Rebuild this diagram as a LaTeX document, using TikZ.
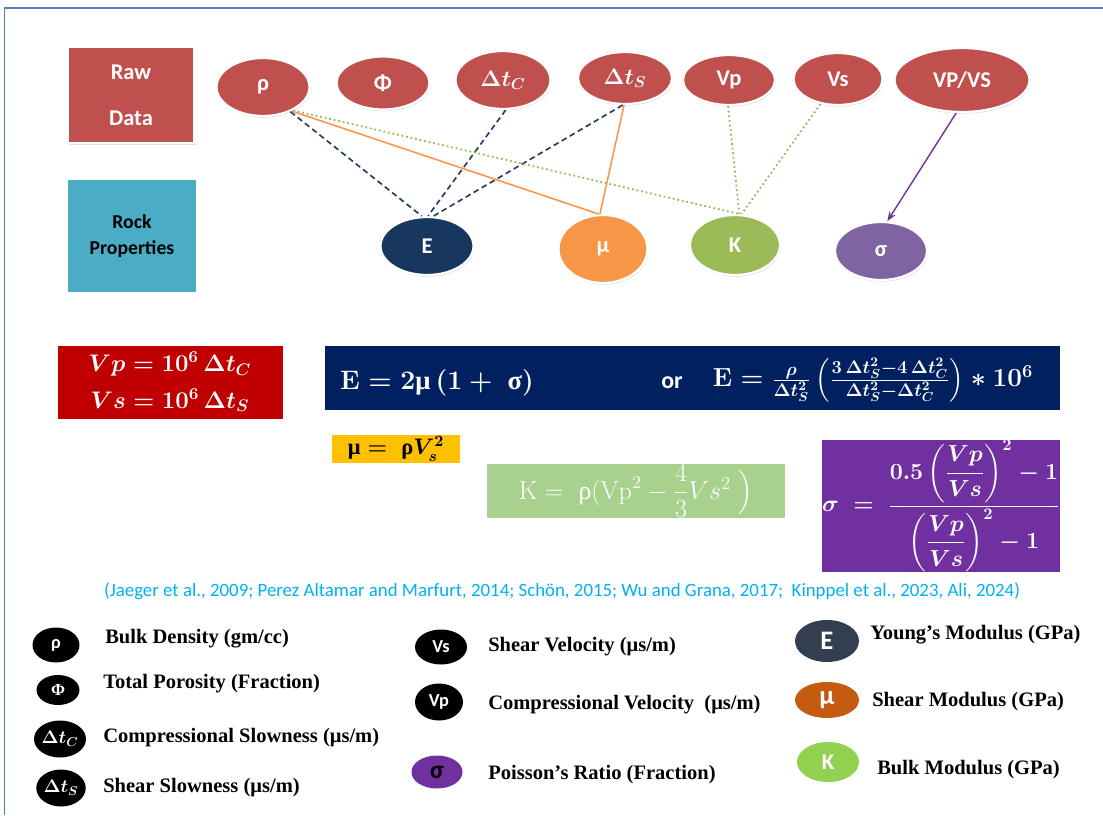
\RequirePackage{fix-cm}
\documentclass[tikz,border=0pt]{standalone}
\usepackage{amsmath}
\usepackage{fontspec}
\setsansfont{Carlito}
\newfontfamily\legfont{Liberation Serif}
\usepackage{tikz}
\usetikzlibrary{arrows.meta,positioning,shapes.geometric,shadows}
\definecolor{rawred}{HTML}{C0504D}
\definecolor{rockblue}{HTML}{4BACC6}
\definecolor{ynavy}{HTML}{17375E}
\definecolor{shearorange}{HTML}{F79646}
\definecolor{bulkgreen}{HTML}{9BBB59}
\definecolor{poisson}{HTML}{8064A2}
\definecolor{linknavy}{HTML}{243F60}
\definecolor{eqred}{HTML}{C00000}
\definecolor{eqnavy}{HTML}{002060}
\definecolor{eqyellow}{HTML}{FFC000}
\definecolor{eqgreen}{HTML}{A9D18E}
\definecolor{eqpurple}{HTML}{7030A0}
\definecolor{citecyan}{HTML}{00B0F0}
\definecolor{framebl}{HTML}{4F81BD}
\definecolor{legslate}{HTML}{333F50}
\definecolor{legorange}{HTML}{C55A11}
\definecolor{leggreen}{HTML}{92D050}
\newcommand{\ug}[1]{\mbox{\legfont\bfseries #1}}
\tikzset{
  tagbox/.style 2 args={rectangle,draw=white,line width=2pt,inner sep=0pt,align=center,
                  minimum width=#1*0.025cm,minimum height=#2*0.025cm,
                  drop shadow={shadow xshift=0.8pt,shadow yshift=-1.4pt,opacity=0.25}},
  oval/.style 2 args={ellipse,draw=white,line width=1.6pt,inner sep=0pt,fill=rawred,text=white,
                  minimum width=#1*0.025cm,minimum height=#2*0.025cm,
                  font=\sffamily\bfseries\boldmath\fontsize{16}{18}\selectfont,
                  drop shadow={shadow xshift=0.6pt,shadow yshift=-1.2pt,opacity=0.25}},
  legoval/.style 2 args={ellipse,fill=black,inner sep=0pt,text=white,
                  minimum width=#1*0.025cm,minimum height=#2*0.025cm,
                  font=\sffamily\bfseries\boldmath\fontsize{13}{14}\selectfont},
  eqbox/.style 2 args={rectangle,inner sep=0pt,align=center,
                  minimum width=#1*0.025cm,minimum height=#2*0.025cm},
  legtext/.style={anchor=west,inner sep=0pt,font=\legfont\bfseries\fontsize{14.6}{16}\selectfont},
  youngs/.style={linknavy,dash pattern=on 4pt off 2.6pt,line width=1.2pt},
  shearln/.style={shearorange,line width=1.1pt},
  bulkln/.style={bulkgreen,dotted,line width=1.3pt},
  poissonln/.style={-{Stealth[length=2.4mm,width=1.8mm]},eqpurple,line width=1pt},
}
\begin{document}
\begin{tikzpicture}[x=0.025cm,y=-0.025cm]
\useasboundingbox (0,0) rectangle (1103,815);
\draw[framebl,line width=1.4pt] (4.5,815) -- (4.5,8) -- (1103,8);

% --- row headings ---
\node[tagbox={127}{96},fill=rawred,text=white,font=\sffamily\bfseries\fontsize{16}{18}\selectfont]
  (raw) at (131,95) {Raw\\[15pt]Data};
\node[tagbox={131}{115},fill=rockblue,text=black,font=\sffamily\bfseries\fontsize{14}{18.5}\selectfont]
  (rock) at (132,236) {Rock\\Properties};

% --- raw data ---
\node[oval={93}{58}]  (rho)  at (263,87) {ρ};
\node[oval={93}{53}]  (phi)  at (383,83) {Φ};
\node[oval={95}{58}]  (dtc)  at (503,80) {$\Delta t_C$};
\node[oval={94}{52}]  (dts)  at (625,78) {$\Delta t_S$};
\node[oval={92}{50}]  (vp)   at (729,80) {Vp};
\node[oval={89}{52}]  (vs)   at (838,79) {Vs};
\node[oval={135}{64}] (vpvs) at (962,80) {VP/VS};

% --- rock properties ---
\node[oval={93}{58},fill=ynavy]       (E)     at (427,246) {E};
\node[oval={89}{68},fill=shearorange] (mu)    at (603,249) {μ};
\node[oval={90}{60},fill=bulkgreen]   (K)     at (735,245) {K};
\node[oval={92}{58},fill=poisson]     (sigma) at (881,251) {σ};

\foreach \a/\b in {rho.-42/E.100, dtc.-85/E.88, dts.-95/E.78}
  \draw[youngs] (\a) -- (\b);
\foreach \a/\b in {rho.-40/mu.97, dts.-92/mu.95}
  \draw[shearln] (\a) -- (\b);
\foreach \a/\b in {rho.-38/K.82, vp.-92/K.82, vs.-125/K.78}
  \draw[bulkln] (\a) -- (\b);
\draw[poissonln] (vpvs.-100) -- (sigma.78);

% --- equations ---
\node[eqbox={225}{73},fill=eqred,text=white,font=\boldmath\fontsize{17}{26}\selectfont]
  (vbox) at (170,382) {$Vp = 10^6\,\Delta t_C$\\$Vs = 10^6\,\Delta t_S$};
\node[eqbox={735}{64},fill=eqnavy] (ebox) at (692,378) {};
\node[text=white,font=\boldmath\fontsize{19}{20}\selectfont] (eone) at (437,383)
  {$\mathbf{E} = 2\ug{μ}\,(1+\ \ug{σ})$};
\node[text=white,font=\sffamily\bfseries\fontsize{17}{20}\selectfont] (eor) at (672,383) {or};
\node[text=white,font=\boldmath\fontsize{18.6}{20}\selectfont] (etwo) at (873,380)
  {$\mathbf{E} = \frac{\rho}{\Delta t_S^2}\left(\frac{3\,\Delta t_S^2-4\,\Delta t_C^2}{\Delta t_S^2-\Delta t_C^2}\right)*10^6$};
\node[eqbox={128}{28},fill=eqyellow,text=black,font=\boldmath\fontsize{16}{18}\selectfont]
  (mubox) at (396,449) {$\ug{μ} =\ \ug{ρ}V_s^2$};
\node[eqbox={298}{54},fill=eqgreen,text=white,font=\fontsize{18.5}{20}\selectfont]
  (kbox) at (636,491) {$\mathrm{K} =\ \ug{\mdseries ρ}(\mathrm{Vp}^2-\dfrac{4}{3}Vs^2\ \Big)$};
\node[eqbox={237}{118},fill=eqpurple,text=white,font=\boldmath\fontsize{16.5}{20}\selectfont]
  (sbox) at (941,506)
  {$\sigma\ =\ \dfrac{0.5\left(\dfrac{Vp}{Vs}\right)^2-1}{\left(\dfrac{Vp}{Vs}\right)^2-1}$};

\node[text=citecyan,font=\sffamily\fontsize{13.4}{15}\selectfont] (refs) at (562,591)
  {(Jaeger et al., 2009; Perez Altamar and Marfurt, 2014; Schön, 2015; Wu and Grana, 2017;\ \ Kinppel et al., 2023, Ali, 2024)};

% --- legend ---
\node[legoval={47}{35}] (lrho) at (56,645) {ρ};
\node[legoval={43}{30},font=\legfont\bfseries\fontsize{12}{12}\selectfont] (lphi) at (58,690) {Φ};
\node[legoval={50}{37}] (ldtc) at (60,739) {$\Delta t_C$};
\node[legoval={48}{37}] (ldts) at (61,788) {$\Delta t_S$};
\node[legoval={52}{35}] (lvs)  at (441,647) {Vs};
\node[legoval={48}{37}] (lvp)  at (439,702) {Vp};
\node[legoval={51}{33},fill=eqpurple,text=black,font=\sffamily\bfseries\fontsize{18}{18}\selectfont] (lsig) at (437,772) {σ};
\node[legoval={64}{42},fill=legslate,font=\sffamily\bfseries\fontsize{19}{18}\selectfont]  (lE)  at (827,641) {E};
\node[legoval={64}{36},fill=legorange,font=\sffamily\bfseries\fontsize{19}{18}\selectfont] (lmu) at (827,700) {μ};
\node[legoval={62}{40},fill=leggreen,font=\sffamily\bfseries\fontsize{16}{18}\selectfont]  (lK)  at (828,762) {K};

\node[legtext] (trho) at (105,639) {Bulk Density (gm/cc)};
\node[legtext] (tphi) at (103,684) {Total Porosity (Fraction)};
\node[legtext] (tdtc) at (103,738) {Compressional Slowness (μs/m)};
\node[legtext] (tdts) at (103,788) {Shear Slowness (μs/m)};
\node[legtext] (tvs)  at (488,647) {Shear Velocity (μs/m)};
\node[legtext] (tvp)  at (488,705) {Compressional Velocity\ \ (μs/m)};
\node[legtext] (tsig) at (488,775) {Poisson’s Ratio (Fraction)};
\node[legtext] (tE)   at (870,635) {Young’s Modulus (GPa)};
\node[legtext] (tmu)  at (872,702) {Shear Modulus (GPa)};
\node[legtext] (tK)   at (877,770) {Bulk Modulus (GPa)};

\end{tikzpicture}
\end{document}
